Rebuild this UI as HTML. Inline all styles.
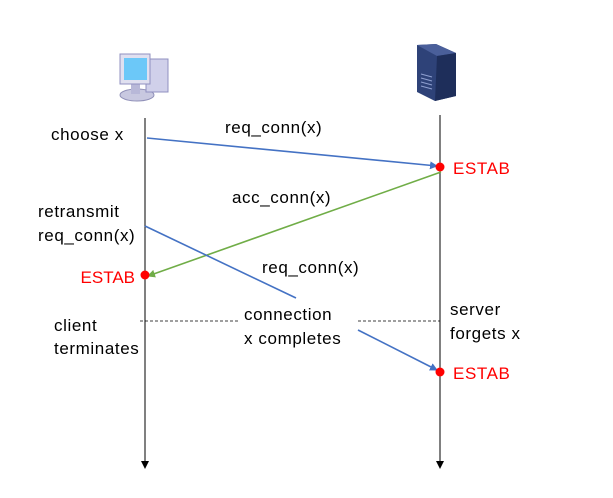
<!DOCTYPE html>
<html><head><style>body{margin:0;background:#fff}</style></head><body>
<svg width="613" height="493" xmlns="http://www.w3.org/2000/svg" font-family="Liberation Sans, sans-serif" font-size="17" letter-spacing="0.6">
<defs>
<marker id="bk" markerWidth="8" markerHeight="8" refX="7" refY="4" orient="auto" markerUnits="userSpaceOnUse"><path d="M0,0 L8,4 L0,8 z" fill="#000"/></marker>
<marker id="bl" markerWidth="8" markerHeight="8" refX="7" refY="4" orient="auto" markerUnits="userSpaceOnUse"><path d="M0,0 L8,4 L0,8 z" fill="#4472c4"/></marker>
<marker id="gr" markerWidth="8" markerHeight="8" refX="7" refY="4" orient="auto" markerUnits="userSpaceOnUse"><path d="M0,0 L8,4 L0,8 z" fill="#70ad47"/></marker>
</defs>
<g>
<ellipse cx="137" cy="95" rx="17" ry="6" fill="#c8c8e0" stroke="#9090b8"/>
<rect x="131" y="82" width="9" height="12" fill="#b8b8d8"/>
<rect x="146" y="59" width="22" height="33" fill="#d0d0ea" stroke="#9090c0"/>
<rect x="120" y="54" width="30" height="30" fill="#e0e0f0" stroke="#9090c0"/>
<rect x="124" y="58" width="23" height="22" fill="#6cc8f8"/>
</g>
<g>
<polygon points="417,45 436,44 456,53 456,96 435,101 417,92" fill="#2e4278"/>
<polygon points="417,45 436,44 456,53 437,56" fill="#4a5f9a"/>
<polygon points="437,56 456,53 456,96 435,101" fill="#1e2e5a"/>
<g stroke="#8fa0d0" stroke-width="1"><line x1="421" y1="74" x2="432" y2="77"/><line x1="421" y1="78" x2="432" y2="81"/><line x1="421" y1="82" x2="432" y2="85"/><line x1="421" y1="86" x2="432" y2="89"/></g>
</g>
<line x1="145" y1="118" x2="145" y2="468" stroke="#000" marker-end="url(#bk)"/>
<line x1="440" y1="115" x2="440" y2="468" stroke="#000" marker-end="url(#bk)"/>
<line x1="140" y1="321" x2="240" y2="321" stroke="#000" stroke-dasharray="3,2" stroke-width="0.8"/>
<line x1="358" y1="321" x2="440" y2="321" stroke="#000" stroke-dasharray="3,2" stroke-width="0.8"/>
<line x1="147" y1="138" x2="437" y2="166" stroke="#4472c4" stroke-width="1.6" marker-end="url(#bl)"/>
<line x1="441" y1="172" x2="148" y2="276" stroke="#70ad47" stroke-width="1.6" marker-end="url(#gr)"/>
<line x1="145" y1="226" x2="296" y2="298" stroke="#4472c4" stroke-width="1.6"/>
<line x1="358" y1="330" x2="437" y2="370" stroke="#4472c4" stroke-width="1.6" marker-end="url(#bl)"/>
<circle cx="440" cy="167" r="4.5" fill="#f00"/>
<circle cx="145" cy="275" r="4.5" fill="#f00"/>
<circle cx="440" cy="372" r="4.5" fill="#f00"/>
<text x="51" y="140">choose x</text>
<text x="225" y="133">req_conn(x)</text>
<text x="453" y="174" fill="#f00">ESTAB</text>
<text x="232" y="203">acc_conn(x)</text>
<text x="38" y="217">retransmit</text>
<text x="38" y="241">req_conn(x)</text>
<text x="135" y="283" fill="#f00" text-anchor="end" letter-spacing="0">ESTAB</text>
<text x="262" y="273">req_conn(x)</text>
<text x="54" y="331">client</text>
<text x="54" y="354">terminates</text>
<text x="244" y="320">connection</text>
<text x="244" y="344">x completes</text>
<text x="450" y="315">server</text>
<text x="450" y="339">forgets x</text>
<text x="453" y="379" fill="#f00">ESTAB</text>
</svg>
</body></html>
